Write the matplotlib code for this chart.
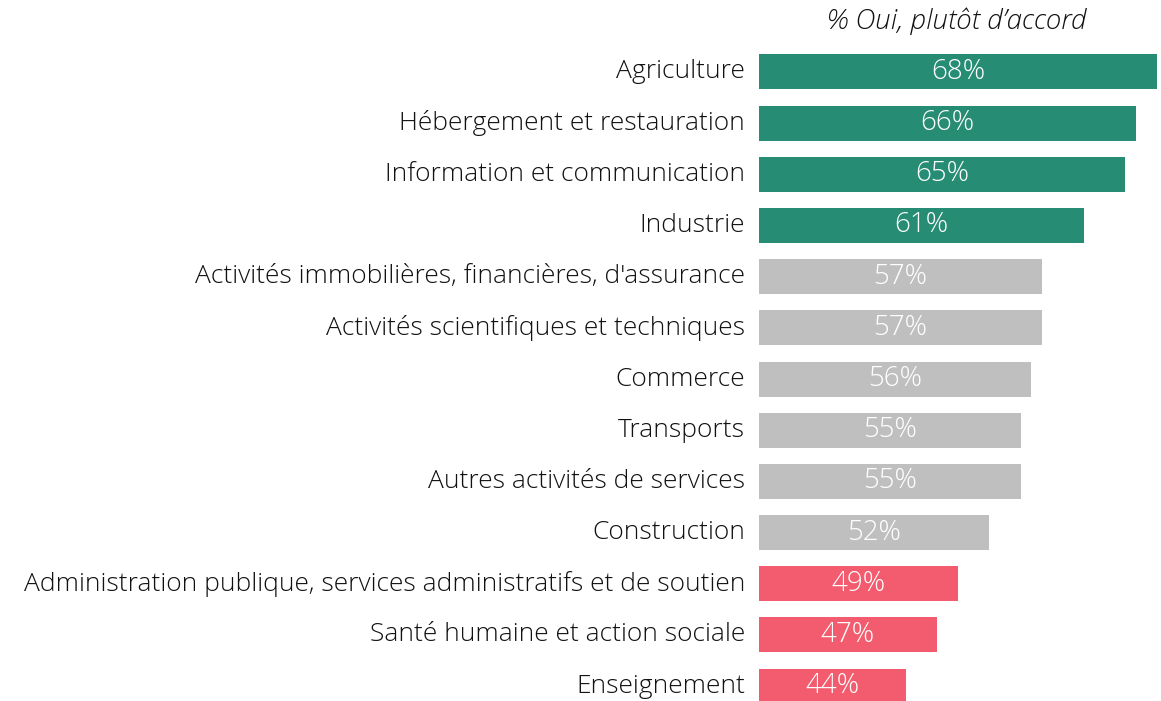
import matplotlib
matplotlib.use("Agg")
import matplotlib.pyplot as plt

categories = [
    "Agriculture",
    "Hébergement et restauration",
    "Information et communication",
    "Industrie",
    "Activités immobilières, financières, d'assurance",
    "Activités scientifiques et techniques",
    "Commerce",
    "Transports",
    "Autres activités de services",
    "Construction",
    "Administration publique, services administratifs et de soutien",
    "Santé humaine et action sociale",
    "Enseignement",
]
values = [68, 66, 65, 61, 57, 57, 56, 55, 55, 52, 49, 47, 44]
groups = ["high"] * 4 + ["mid"] * 6 + ["low"] * 3
title = "% Oui, plutôt d\u2019accord"

colors = {"high": "#268C73", "mid": "#BFBFBF", "low": "#F25C6E"}

W, H = 1161, 701
fig = plt.figure(figsize=(W / 100, H / 100), dpi=100)
ax = fig.add_axes([759 / W, 0, 1 - 759 / W, 1])

fam = ["Open Sans", "DejaVu Sans"]
ys = list(range(len(categories)))
ax.barh(ys, values, height=0.684, left=0,
        color=[colors[g] for g in groups])
ax.set_xlim(30, 68.4)
ax.set_ylim(12.29, -1.405)
ax.axis("off")

for y, v, c in zip(ys, values, categories):
    ax.text((30 + v) / 2, y, f"{v}%", ha="center", va="center",
            color="white", fontsize=20, family=fam, fontweight="light")
    ax.annotate(c, xy=(30, y), xytext=(-14, 0), textcoords="offset pixels",
                ha="right", va="center", color="#111111",
                fontsize=19, family=fam, fontweight="light")

fig.text(957 / W, 1 - 21 / H, title, ha="center", va="center",
         fontsize=20, style="italic", family=fam, fontweight="light",
         color="#111111")

fig.savefig("out.png", dpi=100)
